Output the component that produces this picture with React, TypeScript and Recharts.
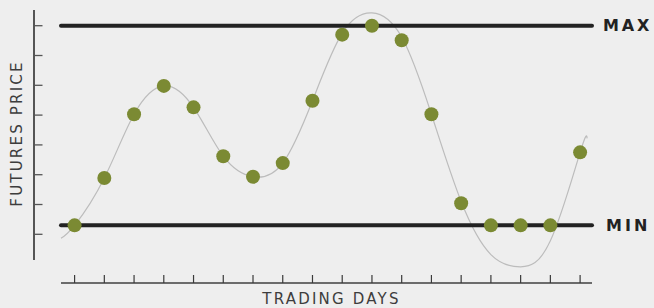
import React from 'react';
import { LineChart, Line, XAxis, YAxis, ReferenceLine } from 'recharts';

// ---- data ----
const tradingDays = [1, 2, 3, 4, 5, 6, 7, 8, 9, 10, 11, 12, 13, 14, 15, 16, 17, 18];
const dotPrices = [1.3, 2.89, 5.03, 5.98, 5.26, 3.62, 2.93, 3.39, 5.48, 7.7, 8.0, 7.51, 5.03, 2.04, 1.3, 1.3, 1.3, 3.75];
const curveDays = [0.543, 1, 2, 3, 4, 5, 6, 7, 8, 9, 10, 11, 12, 13, 14, 15, 16, 17, 18, 18.235];
const curvePrices = [0.87, 1.3, 2.89, 5.03, 5.98, 5.26, 3.62, 2.93, 3.39, 5.48, 7.75, 8.43, 7.62, 5.03, 2.1, 0.32, -0.09, 0.78, 3.75, 4.22];
const priceTicks = [1, 2, 3, 4, 5, 6, 7, 8];
const maxPrice = 8.0;
const minPrice = 1.3;
const xTitle = 'TRADING DAYS';
const yTitle = 'FUTURES PRICE';
const maxLabel = 'MAX';
const minLabel = 'MIN';

const dotData = tradingDays.map((d, i) => ({ day: d, price: dotPrices[i] }));
const curveData = curveDays.map((d, i) => ({ day: d, price: curvePrices[i] }));

const X_DOMAIN: [number, number] = [0.543, 18.4];
const Y_DOMAIN: [number, number] = [-0.634, 8.527];

const FONT = '"DejaVu Sans", sans-serif';
const OLIVE = '#7b8a33';
const TITLE_COLOR = '#3d3d3d';

const YTitle = (props: any) => {
  const vb = props.viewBox || { x: 0, y: 10, width: 34, height: 273 };
  const cx = vb.x + 22;
  const cy = vb.y + 123.5;
  return (
    <text
      x={cx}
      y={cy}
      transform={`rotate(-90 ${cx} ${cy})`}
      textAnchor="middle"
      fill={TITLE_COLOR}
      fontFamily={FONT}
      fontSize={15}
      fontWeight={400}
      letterSpacing={2.2}
    >
      {yTitle}
    </text>
  );
};

const XTitle = (props: any) => {
  const vb = props.viewBox || { x: 61, y: 283, width: 531, height: 25 };
  const cx = vb.x + vb.width / 2 + 5;
  const cy = vb.y + 21.3;
  return (
    <text
      x={cx}
      y={cy}
      textAnchor="middle"
      fill={TITLE_COLOR}
      fontFamily={FONT}
      fontSize={15}
      fontWeight={400}
      letterSpacing={2.2}
    >
      {xTitle}
    </text>
  );
};

const EmptyTick = () => <g />;

export default function App() {
  return (
    <div style={{ position: 'absolute', left: 0, top: 0, width: 654, height: 308, background: '#eeeeee' }}>
      <LineChart width={654} height={308} margin={{ top: 10, right: 62, bottom: 0, left: 0 }}>
        <XAxis
          dataKey="day"
          type="number"
          domain={X_DOMAIN}
          ticks={tradingDays}
          interval={0}
          height={25}
          tickSize={-8}
          tick={EmptyTick}
          axisLine={{ stroke: '#6b6b6b', strokeWidth: 2 }}
          tickLine={{ stroke: '#3a3a3a', strokeWidth: 1.2 }}
          label={<XTitle />}
        />
        <YAxis
          yAxisId="sp"
          type="number"
          domain={Y_DOMAIN}
          width={27}
          tick={false}
          axisLine={false}
          tickLine={false}
        />
        <YAxis
          yAxisId="v"
          type="number"
          domain={Y_DOMAIN}
          ticks={priceTicks}
          interval={0}
          width={34}
          tickSize={-8.5}
          tick={EmptyTick}
          axisLine={{ stroke: '#222222', strokeWidth: 1.5, strokeDasharray: '250 1000' }}
          tickLine={{ stroke: '#555555', strokeWidth: 1.3 }}
          label={<YTitle />}
        />
        <Line
          yAxisId="v"
          data={curveData}
          dataKey="price"
          type="natural"
          stroke="#bcbcbc"
          strokeWidth={1.2}
          dot={false}
          activeDot={false}
          isAnimationActive={false}
        />
        <ReferenceLine
          yAxisId="v"
          y={maxPrice}
          stroke="#222222"
          strokeWidth={4}
          strokeLinecap="round"
          label={{ value: maxLabel, position: 'right', offset: 11, fill: '#222222', fontSize: 16, fontWeight: 700, fontFamily: FONT, letterSpacing: 2.8 }}
        />
        <ReferenceLine
          yAxisId="v"
          y={minPrice}
          stroke="#222222"
          strokeWidth={4}
          strokeLinecap="round"
          label={{ value: minLabel, position: 'right', offset: 14, fill: '#222222', fontSize: 16, fontWeight: 700, fontFamily: FONT, letterSpacing: 3 }}
        />
        <Line
          yAxisId="v"
          data={dotData}
          dataKey="price"
          stroke="none"
          dot={{ r: 7, fill: OLIVE, stroke: 'none' }}
          activeDot={false}
          isAnimationActive={false}
        />
      </LineChart>
    </div>
  );
}
